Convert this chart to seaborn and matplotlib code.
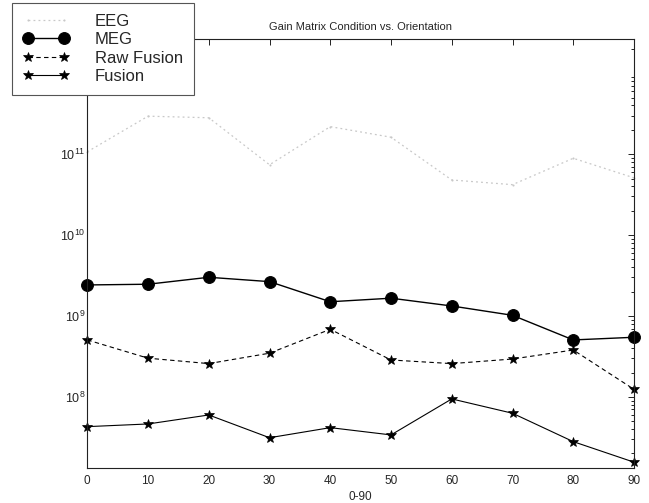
import matplotlib
matplotlib.use("Agg")
import matplotlib.pyplot as plt
import seaborn as sns
from matplotlib.ticker import FixedLocator, FixedFormatter, LogLocator, NullFormatter

# ---- data ----
angles = [0, 10, 20, 30, 40, 50, 60, 70, 80, 90]
eeg = [1.07e11, 2.95e11, 2.82e11, 7.4e10, 2.19e11, 1.62e11, 4.8e10, 4.2e10, 8.9e10, 5.1e10]
meg = [2.42e9, 2.47e9, 3.01e9, 2.66e9, 1.50e9, 1.66e9, 1.33e9, 1.02e9, 5.06e8, 5.46e8]
raw_fusion = [5.06e8, 3.01e8, 2.58e8, 3.47e8, 6.85e8, 2.86e8, 2.58e8, 2.94e8, 3.80e8, 1.24e8]
fusion = [4.29e7, 4.63e7, 5.98e7, 3.13e7, 4.17e7, 3.39e7, 9.44e7, 6.28e7, 2.80e7, 1.56e7]

series_labels = ["EEG", "MEG", "Raw Fusion", "Fusion"]
x_ticks = [0, 10, 20, 30, 40, 50, 60, 70, 80, 90]
y_ticks = [1e8, 1e9, 1e10, 1e11]
y_tick_labels = [r"$10^{8}$", r"$10^{9}$", r"$10^{10}$", r"$10^{11}$"]
title = "Gain Matrix Condition vs. Orientation"
xlabel = "0-90"

# ---- style ----
sns.set_style("white")
plt.rcParams["font.family"] = ["Liberation Sans", "DejaVu Sans"]
plt.rcParams["mathtext.default"] = "regular"

W, H = 649, 503
fig = plt.figure(figsize=(W / 100, H / 100), dpi=100)
left, right, top, bottom = 87.3, 634.0, 39.3, 467.7
ax = fig.add_axes([left / W, 1 - bottom / H, (right - left) / W, (bottom - top) / H])
ax.set_yscale("log")

sns.lineplot(x=angles, y=eeg, ax=ax, color="#c8c8c8", linestyle=(0, (1.5, 2.5)), lw=0.9,
             marker=".", markersize=3, mec="#c8c8c8", mew=0, label=series_labels[0],
             clip_on=False)
sns.lineplot(x=angles, y=meg, ax=ax, color="black", linestyle="-", lw=1.0,
             marker="o", markersize=8.5, mec="black", mfc="black", label=series_labels[1],
             clip_on=False)
sns.lineplot(x=angles, y=raw_fusion, ax=ax, color="black", linestyle=(0, (4, 3)), lw=0.8,
             marker="*", markersize=7.5, mec="black", mfc="black", mew=0.5,
             label=series_labels[2], clip_on=False)
sns.lineplot(x=angles, y=fusion, ax=ax, color="black", linestyle="-", lw=0.8,
             marker="*", markersize=7.5, mec="black", mfc="black", mew=0.5,
             label=series_labels[3], clip_on=False)

ax.set_xlim(0, 90)
ax.set_ylim(10 ** 7.125, 10 ** 12.42)

ax.xaxis.set_major_locator(FixedLocator(x_ticks))
ax.yaxis.set_major_locator(FixedLocator(y_ticks))
ax.yaxis.set_major_formatter(FixedFormatter(y_tick_labels))
ax.yaxis.set_minor_locator(LogLocator(base=10, subs=range(2, 10), numticks=20))
ax.yaxis.set_minor_formatter(NullFormatter())

ax.tick_params(which="both", direction="in", top=True, right=True, color="#222222",
               width=0.7)
ax.tick_params(which="major", length=4)
ax.tick_params(which="minor", length=2)
ax.tick_params(axis="x", labelsize=8.5, pad=5)
ax.tick_params(axis="y", labelsize=9, pad=1.5)

for s in ax.spines.values():
    s.set_color("#222222")
    s.set_linewidth(0.8)

ax.set_title(title, fontsize=8, pad=7)
ax.set_xlabel(xlabel, fontsize=8.5, labelpad=3)
ax.set_ylabel("")

handles = ax.get_lines()[:4]
leg = ax.legend(handles, series_labels, loc="upper left",
                bbox_to_anchor=(12 / W, 1 - 3 / H), bbox_transform=fig.transFigure,
                borderaxespad=0, frameon=True, fancybox=False, shadow=False,
                numpoints=2, handlelength=2.75, handletextpad=1.55, labelspacing=0.2,
                borderpad=0.66, fontsize=12)
leg.get_frame().set_edgecolor("#555555")
leg.get_frame().set_linewidth(0.8)
leg.get_frame().set_alpha(1)

fig.savefig("out.png", dpi=100)
